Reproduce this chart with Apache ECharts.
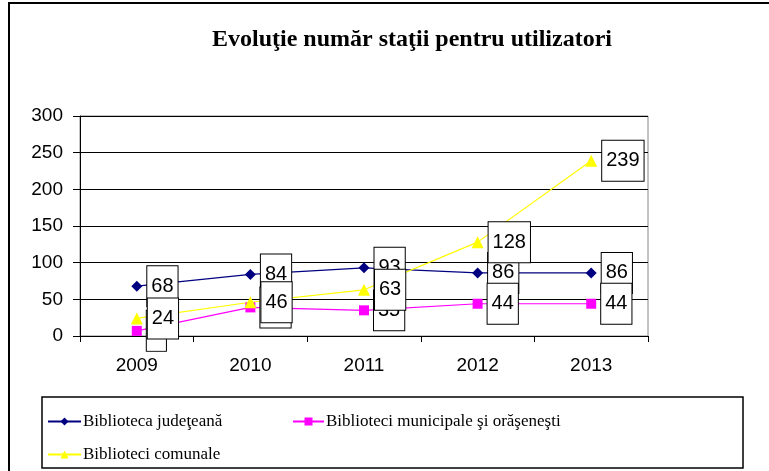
<!DOCTYPE html>
<html>
<head>
<meta charset="utf-8">
<script src="https://cdn.jsdelivr.net/npm/echarts@6/dist/echarts.min.js"></script>
<style>
  html, body { margin: 0; padding: 0; background: #fff; }
  #main { width: 769px; height: 471px; }
</style>
</head>
<body>
<div id="main"></div>
<script>
// date grafic
var ani = ['2009', '2010', '2011', '2012', '2013'];
var judeteana = [68, 84, 93, 86, 86];
var municipale = [7, 39, 35, 44, 44];
var comunale = [24, 46, 63, 128, 239];
var yTicks = { min: 0, max: 300, step: 50 };

var chart = echarts.init(document.getElementById('main'));

var labelBox = {
    show: true,
    position: 'right',
    distance: 5,
    color: '#000',
    fontFamily: 'Liberation Sans, Arial',
    fontSize: 20,
    lineHeight: 20,
    backgroundColor: '#fff',
    borderColor: '#000',
    borderWidth: 1,
    padding: [10, 4]
};

function serie(name, data, color, symbol, size) {
    return {
        name: name,
        type: 'line',
        data: data,
        symbol: symbol,
        symbolSize: size,
        lineStyle: { color: color, width: 1.2 },
        itemStyle: { color: color },
        label: labelBox,
        animation: false
    };
}

var legendText = {
    color: '#000',
    fontFamily: 'Liberation Serif, Times New Roman',
    fontSize: 17,
    padding: [0, 0, 0, -3]
};

chart.setOption({
    backgroundColor: '#fff',
    animation: false,
    title: {
        text: 'Evoluţie număr staţii pentru utilizatori',
        left: 407,
        top: 23,
        textAlign: 'center',
        textStyle: {
            fontFamily: 'Liberation Serif, Times New Roman',
            fontWeight: 'bold',
            fontSize: 24,
            color: '#000'
        }
    },
    grid: {
        left: 80, right: 121, top: 116, bottom: 135,
        show: true, borderColor: '#888', borderWidth: 1
    },
    xAxis: {
        type: 'category',
        data: ani,
        boundaryGap: true,
        axisLine: { lineStyle: { color: '#000', width: 1 } },
        axisTick: { show: true, length: 6, lineStyle: { color: '#000' } },
        axisLabel: {
            color: '#000', fontFamily: 'Liberation Sans, Arial', fontSize: 19, margin: 20
        }
    },
    yAxis: {
        type: 'value',
        min: yTicks.min, max: yTicks.max, interval: yTicks.step,
        axisLine: { show: true, lineStyle: { color: '#000', width: 1 } },
        axisTick: { show: true, length: 7, lineStyle: { color: '#000' } },
        axisLabel: {
            color: '#000', fontFamily: 'Liberation Sans, Arial', fontSize: 19, margin: 17
        },
        splitLine: { show: true, lineStyle: { color: '#000', width: 1 } }
    },
    legend: [{
        data: ['Biblioteca judeţeană', 'Biblioteci comunale'],
        orient: 'vertical',
        left: 47, top: 413,
        padding: 0,
        itemWidth: 33, itemHeight: 10, itemGap: 16,
        textStyle: legendText,
        selectedMode: false
    }, {
        data: ['Biblioteci municipale şi orăşeneşti'],
        orient: 'vertical',
        left: 292, top: 413,
        padding: 0,
        itemWidth: 31, itemHeight: 10,
        textStyle: legendText,
        selectedMode: false
    }],
    graphic: [{
        type: 'rect',
        shape: { x: 9, y: 3, width: 800, height: 520 },
        style: { fill: 'none', stroke: '#000', lineWidth: 2 },
        z: -1
    }, {
        type: 'rect',
        shape: { x: 42, y: 397, width: 701, height: 71 },
        style: { fill: 'none', stroke: '#000', lineWidth: 1.5 }
    }],
    series: [
        serie('Biblioteca judeţeană', judeteana, '#000080', 'diamond', 11),
        serie('Biblioteci municipale şi orăşeneşti', municipale, '#FF00FF', 'rect', 10),
        serie('Biblioteci comunale', comunale, '#FFFF00', 'triangle', 12)
    ]
});
</script>
</body>
</html>
